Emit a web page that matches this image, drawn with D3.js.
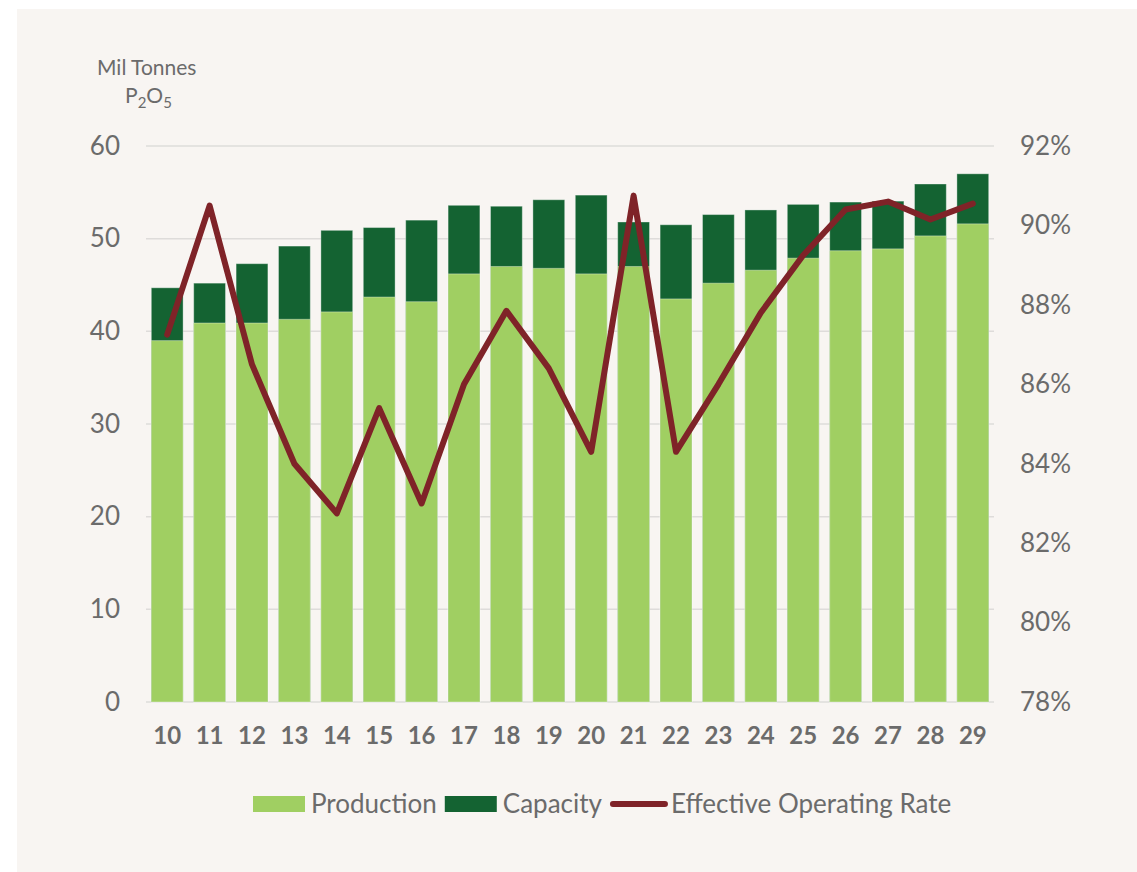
<!DOCTYPE html>
<meta charset="utf-8">
<style>
  body { margin: 0; background: #ffffff; font-family: 'Lato', sans-serif; }
  svg text { fill: #6b6b6b; font-family: 'Lato', sans-serif; }
</style>
<body>
<script src="https://d3js.org/d3.v7.min.js"></script>
<script>

// years shown on the x axis (20xx)
var years = ["10","11","12","13","14","15","16","17","18","19","20","21","22","23","24","25","26","27","28","29"];
// production, Mil tonnes P2O5
var production = [39.0, 40.9, 40.9, 41.3, 42.1, 43.7, 43.2, 46.2, 47.0, 46.8, 46.2, 47.0, 43.5, 45.2, 46.6, 47.9, 48.7, 48.9, 50.3, 51.6];
// capacity, Mil tonnes P2O5
var capacity = [44.7, 45.2, 47.3, 49.2, 50.9, 51.2, 52.0, 53.6, 53.5, 54.2, 54.7, 51.8, 51.5, 52.6, 53.1, 53.7, 53.95, 54.05, 55.9, 57.0];
// effective operating rate, %
var rate = [87.25, 90.5, 86.5, 84.0, 82.75, 85.4, 83.0, 86.0, 87.85, 86.4, 84.3, 90.75, 84.3, 86.0, 87.8, 89.25, 90.4, 90.6, 90.15, 90.55];

var leftTicks = [0, 10, 20, 30, 40, 50, 60];
var rightTicks = [78, 80, 82, 84, 86, 88, 90, 92];

var W = 1137, H = 872;
var margin = { top: 146, right: 143, bottom: 170, left: 146 };
var width = W - margin.left - margin.right;
var height = H - margin.top - margin.bottom;

var colProd = "#a0cf62", colCap = "#146332", colRate = "#7f2328";

var svg = d3.select("body").append("svg")
  .attr("width", W)
  .attr("height", H);

// beige panel
svg.append("rect")
  .attr("x", 17).attr("y", 9)
  .attr("width", W - 17).attr("height", H - 9)
  .attr("fill", "#f8f5f2");

var g = svg.append("g")
  .attr("transform", "translate(" + margin.left + "," + margin.top + ")");

var x = d3.scaleBand()
  .domain(years)
  .range([0, width])
  .paddingInner(0.25)
  .paddingOuter(0.125);

var y = d3.scaleLinear().domain([0, 60]).range([height, 0]);
var y2 = d3.scaleLinear().domain([78, 92]).range([height, 0]);

// gridlines
g.append("g")
  .selectAll("line")
  .data(leftTicks)
  .enter().append("line")
    .attr("x1", 0).attr("x2", width)
    .attr("y1", function(d) { return y(d); })
    .attr("y2", function(d) { return y(d); })
    .attr("stroke", "#dedcda")
    .attr("stroke-width", 1.5);

// left axis labels
var yAxis = g.append("g")
  .call(d3.axisLeft(y).tickValues(leftTicks).tickSize(0).tickPadding(26));
yAxis.select(".domain").remove();
yAxis.selectAll("text")
  .style("font-size", "26px")
  .style("fill", "#6b6b6b");

// right axis labels
var y2Axis = g.append("g")
  .attr("transform", "translate(" + width + ",0)")
  .call(d3.axisRight(y2).tickValues(rightTicks).tickSize(0).tickPadding(26)
    .tickFormat(function(d) { return d + "%"; }));
y2Axis.select(".domain").remove();
y2Axis.selectAll("text")
  .style("font-size", "26px")
  .style("fill", "#6b6b6b");

// x axis labels
var xAxis = g.append("g")
  .attr("transform", "translate(0," + height + ")")
  .call(d3.axisBottom(x).tickSize(0).tickPadding(25));
xAxis.select(".domain").remove();
xAxis.selectAll("text")
  .style("font-size", "24px")
  .style("font-weight", "bold")
  .style("fill", "#6b6b6b");

// capacity bars (full height), production drawn over them
g.selectAll(".cap")
  .data(years)
  .enter().append("rect")
    .attr("class", "cap")
    .attr("x", function(d) { return x(d); })
    .attr("width", x.bandwidth())
    .attr("y", function(d, i) { return y(capacity[i]); })
    .attr("height", function(d, i) { return height - y(capacity[i]); })
    .attr("fill", colCap)
    .attr("stroke", "#ffffff").attr("stroke-opacity", 0.35).attr("stroke-width", 1);

g.selectAll(".prod")
  .data(years)
  .enter().append("rect")
    .attr("class", "prod")
    .attr("x", function(d) { return x(d); })
    .attr("width", x.bandwidth())
    .attr("y", function(d, i) { return y(production[i]); })
    .attr("height", function(d, i) { return height - y(production[i]); })
    .attr("fill", colProd)
    .attr("stroke", "#ffffff").attr("stroke-opacity", 0.35).attr("stroke-width", 1);

// operating rate line
var line = d3.line()
  .x(function(d, i) { return x(years[i]) + x.bandwidth() / 2; })
  .y(function(d) { return y2(d); });

g.append("path")
  .datum(rate)
  .attr("d", line)
  .attr("fill", "none")
  .attr("stroke", colRate)
  .attr("stroke-width", 6)
  .attr("stroke-linejoin", "round")
  .attr("stroke-linecap", "round");

// unit label
svg.append("text")
  .attr("x", 97).attr("y", 75)
  .style("font-size", "21px")
  .text("Mil Tonnes");

var unit = svg.append("text")
  .attr("x", 125).attr("y", 103)
  .style("font-size", "21px");
unit.append("tspan").text("P");
unit.append("tspan").attr("dy", 5).style("font-size", "15px").text("2");
unit.append("tspan").attr("dy", -5).text("O");
unit.append("tspan").attr("dy", 5).style("font-size", "15px").text("5");

// legend
var legendItems = [
  { name: "Production", color: colProd, type: "rect" },
  { name: "Capacity", color: colCap, type: "rect" },
  { name: "Effective Operating Rate", color: colRate, type: "line" }
];

var lx = 253, ly = 804;
legendItems.forEach(function(item) {
  if (item.type === "rect") {
    svg.append("rect")
      .attr("x", lx).attr("y", ly - 8)
      .attr("width", 52).attr("height", 16)
      .attr("fill", item.color);
    lx += 58;
  } else {
    svg.append("line")
      .attr("x1", lx + 3).attr("x2", lx + 55)
      .attr("y1", ly).attr("y2", ly)
      .attr("stroke", item.color)
      .attr("stroke-width", 6)
      .attr("stroke-linecap", "round");
    lx += 61;
  }
  var t = svg.append("text")
    .attr("x", lx).attr("y", ly)
    .attr("dy", "0.35em")
    .style("font-size", "26px")
    .text(item.name);
  lx += t.node().getComputedTextLength() + 8;
});

</script>
</body>
